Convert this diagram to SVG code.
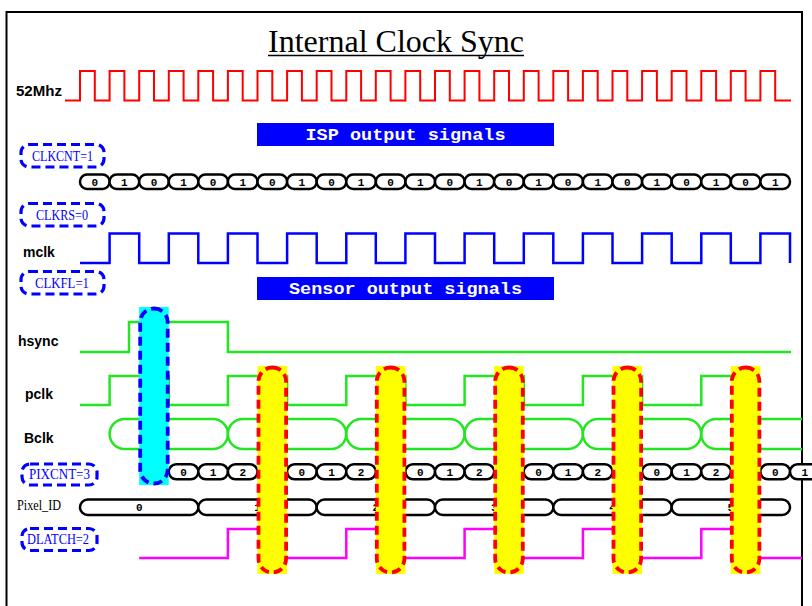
<svg xmlns="http://www.w3.org/2000/svg" width="812" height="606" viewBox="0 0 812 606">
<style>
.lbl{font-family:"Liberation Sans",Arial,sans-serif;font-weight:bold;font-size:14px;fill:#000}
.reg{font-family:"Liberation Serif","Times New Roman",serif;font-size:14px;fill:#0000ff}
.dig{font-family:"Liberation Mono","Courier New",monospace;font-weight:bold;font-size:11px;fill:#000;text-anchor:middle}
.ban{font-family:"Liberation Mono","Courier New",monospace;font-weight:bold;font-size:17px;fill:#fff;text-anchor:middle}
.pill{fill:#fff;stroke:#000;stroke-width:2.5}
.grn{fill:none;stroke:#22e622;stroke-width:2.5}
.dbox{fill:none;stroke:#0000ff;stroke-width:3.2;stroke-dasharray:9 5}
.ybar{fill:#ffff00}
.yout{fill:none;stroke:#ff0000;stroke-width:3.8;stroke-dasharray:9 5}
</style>
<rect x="0" y="0" width="812" height="606" fill="#fff"/>
<rect x="6.5" y="12" width="795.5" height="620" fill="none" stroke="#000" stroke-width="2"/>
<g id="title">
<text x="396" y="52" font-family="'Liberation Serif','Times New Roman',serif" font-size="32" text-anchor="middle" textLength="256" lengthAdjust="spacingAndGlyphs">Internal Clock Sync</text>
<line x1="268" y1="55.5" x2="524" y2="55.5" stroke="#000" stroke-width="1.5"/>
</g>
<g id="clk52">
<text class="lbl" x="16" y="96" textLength="46" lengthAdjust="spacingAndGlyphs">52Mhz</text>
<path fill="none" stroke="#ff0000" stroke-width="2" d="M65,100.5H80V71H94.8V100.5H109.6V71H124.4V100.5H139.2V71H154V100.5H168.8V71H183.6V100.5H198.3V71H213.1V100.5H227.9V71H242.7V100.5H257.5V71H272.3V100.5H287.1V71H301.9V100.5H316.7V71H331.5V100.5H346.3V71H361.1V100.5H375.8V71H390.6V100.5H405.4V71H420.2V100.5H435V71H449.8V100.5H464.6V71H479.4V100.5H494.2V71H509V100.5H523.8V71H538.6V100.5H553.3V71H568.1V100.5H582.9V71H597.7V100.5H612.5V71H627.3V100.5H642.1V71H656.9V100.5H671.7V71H686.5V100.5H701.3V71H716.1V100.5H730.8V71H745.6V100.5H760.4V71H775.2V100.5H791"/>
</g>
<g id="isp-banner">
<rect x="257" y="123" width="297" height="23" fill="#0000ff"/>
<text class="ban" x="405.5" y="140" textLength="200" lengthAdjust="spacingAndGlyphs">ISP output signals</text>
</g>
<g id="clkcnt-label">
<rect class="dbox" x="21" y="144.5" width="83" height="22.5" rx="8"/>
<text class="reg" x="32" y="160.5" textLength="61" lengthAdjust="spacingAndGlyphs">CLKCNT=1</text>
</g>
<g id="clkcnt">
<rect class="pill" x="80" y="174.5" width="29.58" height="14.5" rx="7"/><text class="dig" x="94.8" y="185.5">0</text>
<rect class="pill" x="109.58" y="174.5" width="29.58" height="14.5" rx="7"/><text class="dig" x="124.4" y="185.5">1</text>
<rect class="pill" x="139.17" y="174.5" width="29.58" height="14.5" rx="7"/><text class="dig" x="154" y="185.5">0</text>
<rect class="pill" x="168.75" y="174.5" width="29.58" height="14.5" rx="7"/><text class="dig" x="183.5" y="185.5">1</text>
<rect class="pill" x="198.33" y="174.5" width="29.58" height="14.5" rx="7"/><text class="dig" x="213.1" y="185.5">0</text>
<rect class="pill" x="227.92" y="174.5" width="29.58" height="14.5" rx="7"/><text class="dig" x="242.7" y="185.5">1</text>
<rect class="pill" x="257.5" y="174.5" width="29.58" height="14.5" rx="7"/><text class="dig" x="272.3" y="185.5">0</text>
<rect class="pill" x="287.08" y="174.5" width="29.58" height="14.5" rx="7"/><text class="dig" x="301.9" y="185.5">1</text>
<rect class="pill" x="316.67" y="174.5" width="29.58" height="14.5" rx="7"/><text class="dig" x="331.5" y="185.5">0</text>
<rect class="pill" x="346.25" y="174.5" width="29.58" height="14.5" rx="7"/><text class="dig" x="361" y="185.5">1</text>
<rect class="pill" x="375.83" y="174.5" width="29.58" height="14.5" rx="7"/><text class="dig" x="390.6" y="185.5">0</text>
<rect class="pill" x="405.42" y="174.5" width="29.58" height="14.5" rx="7"/><text class="dig" x="420.2" y="185.5">1</text>
<rect class="pill" x="435" y="174.5" width="29.58" height="14.5" rx="7"/><text class="dig" x="449.8" y="185.5">0</text>
<rect class="pill" x="464.58" y="174.5" width="29.58" height="14.5" rx="7"/><text class="dig" x="479.4" y="185.5">1</text>
<rect class="pill" x="494.17" y="174.5" width="29.58" height="14.5" rx="7"/><text class="dig" x="509" y="185.5">0</text>
<rect class="pill" x="523.75" y="174.5" width="29.58" height="14.5" rx="7"/><text class="dig" x="538.5" y="185.5">1</text>
<rect class="pill" x="553.33" y="174.5" width="29.58" height="14.5" rx="7"/><text class="dig" x="568.1" y="185.5">0</text>
<rect class="pill" x="582.92" y="174.5" width="29.58" height="14.5" rx="7"/><text class="dig" x="597.7" y="185.5">1</text>
<rect class="pill" x="612.5" y="174.5" width="29.58" height="14.5" rx="7"/><text class="dig" x="627.3" y="185.5">0</text>
<rect class="pill" x="642.08" y="174.5" width="29.58" height="14.5" rx="7"/><text class="dig" x="656.9" y="185.5">1</text>
<rect class="pill" x="671.67" y="174.5" width="29.58" height="14.5" rx="7"/><text class="dig" x="686.5" y="185.5">0</text>
<rect class="pill" x="701.25" y="174.5" width="29.58" height="14.5" rx="7"/><text class="dig" x="716" y="185.5">1</text>
<rect class="pill" x="730.83" y="174.5" width="29.58" height="14.5" rx="7"/><text class="dig" x="745.6" y="185.5">0</text>
<rect class="pill" x="760.42" y="174.5" width="29.58" height="14.5" rx="7"/><text class="dig" x="775.2" y="185.5">1</text>
</g>
<g id="clkrs-label">
<rect class="dbox" x="21" y="203.5" width="83" height="22.5" rx="8"/>
<text class="reg" x="36" y="220" textLength="52" lengthAdjust="spacingAndGlyphs">CLKRS=0</text>
</g>
<g id="mclk">
<text class="lbl" x="23" y="257">mclk</text>
<path fill="none" stroke="#0000ff" stroke-width="2.5" d="M80,263H109.6V233.5H139.2V263H168.8V233.5H198.3V263H227.9V233.5H257.5V263H287.1V233.5H316.7V263H346.3V233.5H375.8V263H405.4V233.5H435V263H464.6V233.5H494.2V263H523.8V233.5H553.3V263H582.9V233.5H612.5V263H642.1V233.5H671.7V263H701.3V233.5H730.8V263H760.4V233.5H790V263"/>
</g>
<g id="clkfl-label">
<rect class="dbox" x="21" y="271.5" width="83" height="22.5" rx="8"/>
<text class="reg" x="35" y="288" textLength="54" lengthAdjust="spacingAndGlyphs">CLKFL=1</text>
</g>
<g id="sensor-banner">
<rect x="257" y="277" width="297" height="23" fill="#0000ff"/>
<text class="ban" x="405.5" y="294" textLength="233" lengthAdjust="spacingAndGlyphs">Sensor output signals</text>
</g>
<g id="hsync">
<text class="lbl" x="18" y="346">hsync</text>
<path class="grn" d="M80,352H129V322H227.9V352H791"/>
</g>
<g id="pclk">
<text class="lbl" x="25" y="399">pclk</text>
<path class="grn" d="M80,405H109.6V376H168.8V405H227.9V376H287.1V405H346.3V376H405.4V405H464.6V376H523.8V405H582.9V376H642.1V405H701.3V376H745"/>
</g>
<g id="bclk">
<text class="lbl" x="24" y="443">Bclk</text>
<rect class="grn" x="109.6" y="419" width="118.3" height="30" rx="15"/>
<rect class="grn" x="227.9" y="419" width="118.3" height="30" rx="15"/>
<rect class="grn" x="346.2" y="419" width="118.4" height="30" rx="15"/>
<rect class="grn" x="464.6" y="419" width="118.3" height="30" rx="15"/>
<rect class="grn" x="582.9" y="419" width="118.3" height="30" rx="15"/>
<path class="grn" d="M802,419H716.2A15,15 0 0 0 716.2,449H802"/>
</g>
<g id="pixcnt-label">
<rect class="dbox" x="22" y="464" width="75" height="21" rx="8"/>
<text class="reg" x="29" y="478.5" textLength="61" lengthAdjust="spacingAndGlyphs">PIXCNT=3</text>
</g>
<g id="pixcnt">
<rect class="pill" x="168.75" y="464.3" width="29.58" height="15" rx="7.5"/><text class="dig" x="183.5" y="475.5">0</text>
<rect class="pill" x="198.33" y="464.3" width="29.58" height="15" rx="7.5"/><text class="dig" x="213.1" y="475.5">1</text>
<rect class="pill" x="227.92" y="464.3" width="29.58" height="15" rx="7.5"/><text class="dig" x="242.7" y="475.5">2</text>
<rect class="pill" x="287.08" y="464.3" width="29.58" height="15" rx="7.5"/><text class="dig" x="301.9" y="475.5">0</text>
<rect class="pill" x="316.67" y="464.3" width="29.58" height="15" rx="7.5"/><text class="dig" x="331.5" y="475.5">1</text>
<rect class="pill" x="346.25" y="464.3" width="29.58" height="15" rx="7.5"/><text class="dig" x="361" y="475.5">2</text>
<rect class="pill" x="405.42" y="464.3" width="29.58" height="15" rx="7.5"/><text class="dig" x="420.2" y="475.5">0</text>
<rect class="pill" x="435" y="464.3" width="29.58" height="15" rx="7.5"/><text class="dig" x="449.8" y="475.5">1</text>
<rect class="pill" x="464.58" y="464.3" width="29.58" height="15" rx="7.5"/><text class="dig" x="479.4" y="475.5">2</text>
<rect class="pill" x="523.75" y="464.3" width="29.58" height="15" rx="7.5"/><text class="dig" x="538.5" y="475.5">0</text>
<rect class="pill" x="553.33" y="464.3" width="29.58" height="15" rx="7.5"/><text class="dig" x="568.1" y="475.5">1</text>
<rect class="pill" x="582.92" y="464.3" width="29.58" height="15" rx="7.5"/><text class="dig" x="597.7" y="475.5">2</text>
<rect class="pill" x="642.08" y="464.3" width="29.58" height="15" rx="7.5"/><text class="dig" x="656.9" y="475.5">0</text>
<rect class="pill" x="671.67" y="464.3" width="29.58" height="15" rx="7.5"/><text class="dig" x="686.5" y="475.5">1</text>
<rect class="pill" x="701.25" y="464.3" width="29.58" height="15" rx="7.5"/><text class="dig" x="716" y="475.5">2</text>
<rect class="pill" x="760.42" y="464.3" width="29.58" height="15" rx="7.5"/><text class="dig" x="775.2" y="475.5">0</text>
<rect class="pill" x="790" y="464.3" width="29.58" height="15" rx="7.5"/><text class="dig" x="804.8" y="475.5">1</text>
</g>
<g id="pixel-id">
<text x="17" y="510" font-family="'Liberation Serif','Times New Roman',serif" font-size="14" textLength="44" lengthAdjust="spacingAndGlyphs">Pixel_ID</text>
<rect class="pill" x="80" y="499.5" width="118.33" height="15.5" rx="7.75"/><text class="dig" x="139.2" y="511">0</text>
<rect class="pill" x="198.33" y="499.5" width="118.33" height="15.5" rx="7.75"/><text class="dig" x="257.5" y="511">1</text>
<rect class="pill" x="316.67" y="499.5" width="118.33" height="15.5" rx="7.75"/><text class="dig" x="375.8" y="511">2</text>
<rect class="pill" x="435" y="499.5" width="118.33" height="15.5" rx="7.75"/><text class="dig" x="494.2" y="511">3</text>
<rect class="pill" x="553.33" y="499.5" width="118.33" height="15.5" rx="7.75"/><text class="dig" x="612.5" y="511">4</text>
<rect class="pill" x="671.67" y="499.5" width="118.33" height="15.5" rx="7.75"/><text class="dig" x="730.8" y="511">5</text>
</g>
<g id="dlatch-label">
<rect class="dbox" x="22" y="528.5" width="75" height="22" rx="8"/>
<text class="reg" x="27" y="544" textLength="62" lengthAdjust="spacingAndGlyphs">DLATCH=2</text>
</g>
<g id="dlatch">
<path fill="none" stroke="#ff00ff" stroke-width="2.5" d="M139.2,558H227.9V529H272.3V558H346.3V529H390.6V558H464.6V529H509V558H582.9V529H627.3V558H701.3V529H745.6V558H802"/>
</g>
<g id="sync-marker">
<rect x="139.17" y="307" width="29.58" height="178" fill="#00ffff"/>
<rect x="140.2" y="308.5" width="27.5" height="175" rx="13.7" fill="none" stroke="#0000ff" stroke-width="3.8" stroke-dasharray="9 5"/>
</g>
<g id="latch-markers">
<rect class="ybar" x="257.5" y="366" width="29.58" height="208"/>
<rect class="yout" x="258.5" y="367.5" width="27.6" height="205" rx="13.8"/>
<rect class="ybar" x="375.83" y="366" width="29.58" height="208"/>
<rect class="yout" x="376.8" y="367.5" width="27.6" height="205" rx="13.8"/>
<rect class="ybar" x="494.17" y="366" width="29.58" height="208"/>
<rect class="yout" x="495.2" y="367.5" width="27.6" height="205" rx="13.8"/>
<rect class="ybar" x="612.5" y="366" width="29.58" height="208"/>
<rect class="yout" x="613.5" y="367.5" width="27.6" height="205" rx="13.8"/>
<rect class="ybar" x="730.83" y="366" width="29.58" height="208"/>
<rect class="yout" x="731.8" y="367.5" width="27.6" height="205" rx="13.8"/>
</g>
</svg>
